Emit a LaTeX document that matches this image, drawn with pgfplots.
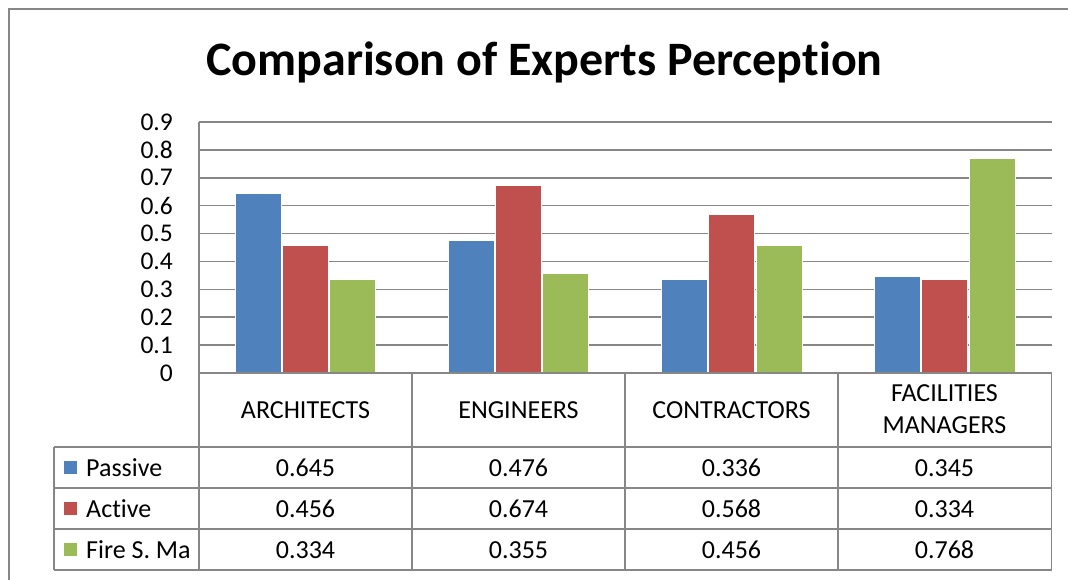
\documentclass[border=0pt]{standalone}
\usepackage{fontspec}
\setmainfont{Carlito}[Ligatures=NoCommon]
\usepackage{pgfplots}
\pgfplotsset{compat=1.18}
\definecolor{cBlue}{HTML}{4F81BD}
\definecolor{cRed}{HTML}{C0504D}
\definecolor{cGreen}{HTML}{9BBB59}
\definecolor{cGrid}{HTML}{878787}
\begin{document}
\begin{tikzpicture}[x=1pt,y=1pt]
\useasboundingbox (0,0) rectangle (1068,580);
\begin{scope}
\clip (0,0) rectangle (1068,580);
\draw[cGrid, line width=1.5pt] (9,-10) -- (9,571) -- (1080,571);
\end{scope}
\node[font=\fontsize{48}{52}\selectfont\bfseries, anchor=base, inner sep=0pt] at (544.5,504) {Comparison of Experts Perception};
\begin{axis}[
  at={(199pt,207pt)}, anchor=south west, scale only axis,
  width=852.5pt, height=251pt,
  xmin=-0.5, xmax=3.5, ymin=0, ymax=0.9,
  ytick={0,0.1,0.2,0.3,0.4,0.5,0.6,0.7,0.8,0.9},
  xtick=\empty,
  ymajorgrids, major grid style={cGrid, line width=1.5pt},
  axis line style={draw=none},
  major tick length=0pt,
  /pgf/number format/assume math mode=true,
  yticklabel style={font=\fontsize{25.5}{30}\selectfont, anchor=east, inner sep=0pt, xshift=-26pt},
  ybar=1.3pt, bar width=46pt,
]
\addplot[fill=cBlue, draw=white, line width=1pt] coordinates {(0,0.645) (1,0.476) (2,0.336) (3,0.345)};
\addplot[fill=cRed, draw=white, line width=1pt] coordinates {(0,0.456) (1,0.674) (2,0.568) (3,0.334)};
\addplot[fill=cGreen, draw=white, line width=1pt] coordinates {(0,0.334) (1,0.355) (2,0.456) (3,0.768)};
\end{axis}
% data table
\draw[cGrid, line width=1.5pt] (199,458) -- (199,10);
\foreach \xx in {412,625,838,1051.5} \draw[cGrid, line width=1.5pt] (\xx,207) -- (\xx,10);
\draw[cGrid, line width=1.5pt] (199,207) -- (1051.5,207);
\foreach \yy in {133,92,51,10} \draw[cGrid, line width=1.5pt] (54,\yy) -- (1051.5,\yy);
\draw[cGrid, line width=1.5pt] (54,133) -- (54,10);
\begin{scope}[every node/.style={font=\fontsize{26}{30}\selectfont, inner sep=0pt, anchor=base}]
\node at (305.5,161.7) {ARCHITECTS};
\node at (518.5,161.7) {ENGINEERS};
\node at (731.5,161.7) {CONTRACTORS};
\node at (944.5,178.3) {FACILITIES};
\node at (944.5,146) {MANAGERS};
% legend column
\fill[cBlue] (64,106) rectangle (77,119);
\fill[cRed] (64,65) rectangle (77,78);
\fill[cGreen] (64,24) rectangle (77,37);
\node[anchor=base west] at (86,103.5) {Passive};
\node[anchor=base west] at (86,62.5) {Active};
\node[anchor=base west] at (86,21.5) {Fire S. Ma};
% values
\node at (305.5,103.5) {0.645};
\node at (518.5,103.5) {0.476};
\node at (731.5,103.5) {0.336};
\node at (944.5,103.5) {0.345};
\node at (305.5,62.5) {0.456};
\node at (518.5,62.5) {0.674};
\node at (731.5,62.5) {0.568};
\node at (944.5,62.5) {0.334};
\node at (305.5,21.5) {0.334};
\node at (518.5,21.5) {0.355};
\node at (731.5,21.5) {0.456};
\node at (944.5,21.5) {0.768};
\end{scope}
\end{tikzpicture}
\end{document}
